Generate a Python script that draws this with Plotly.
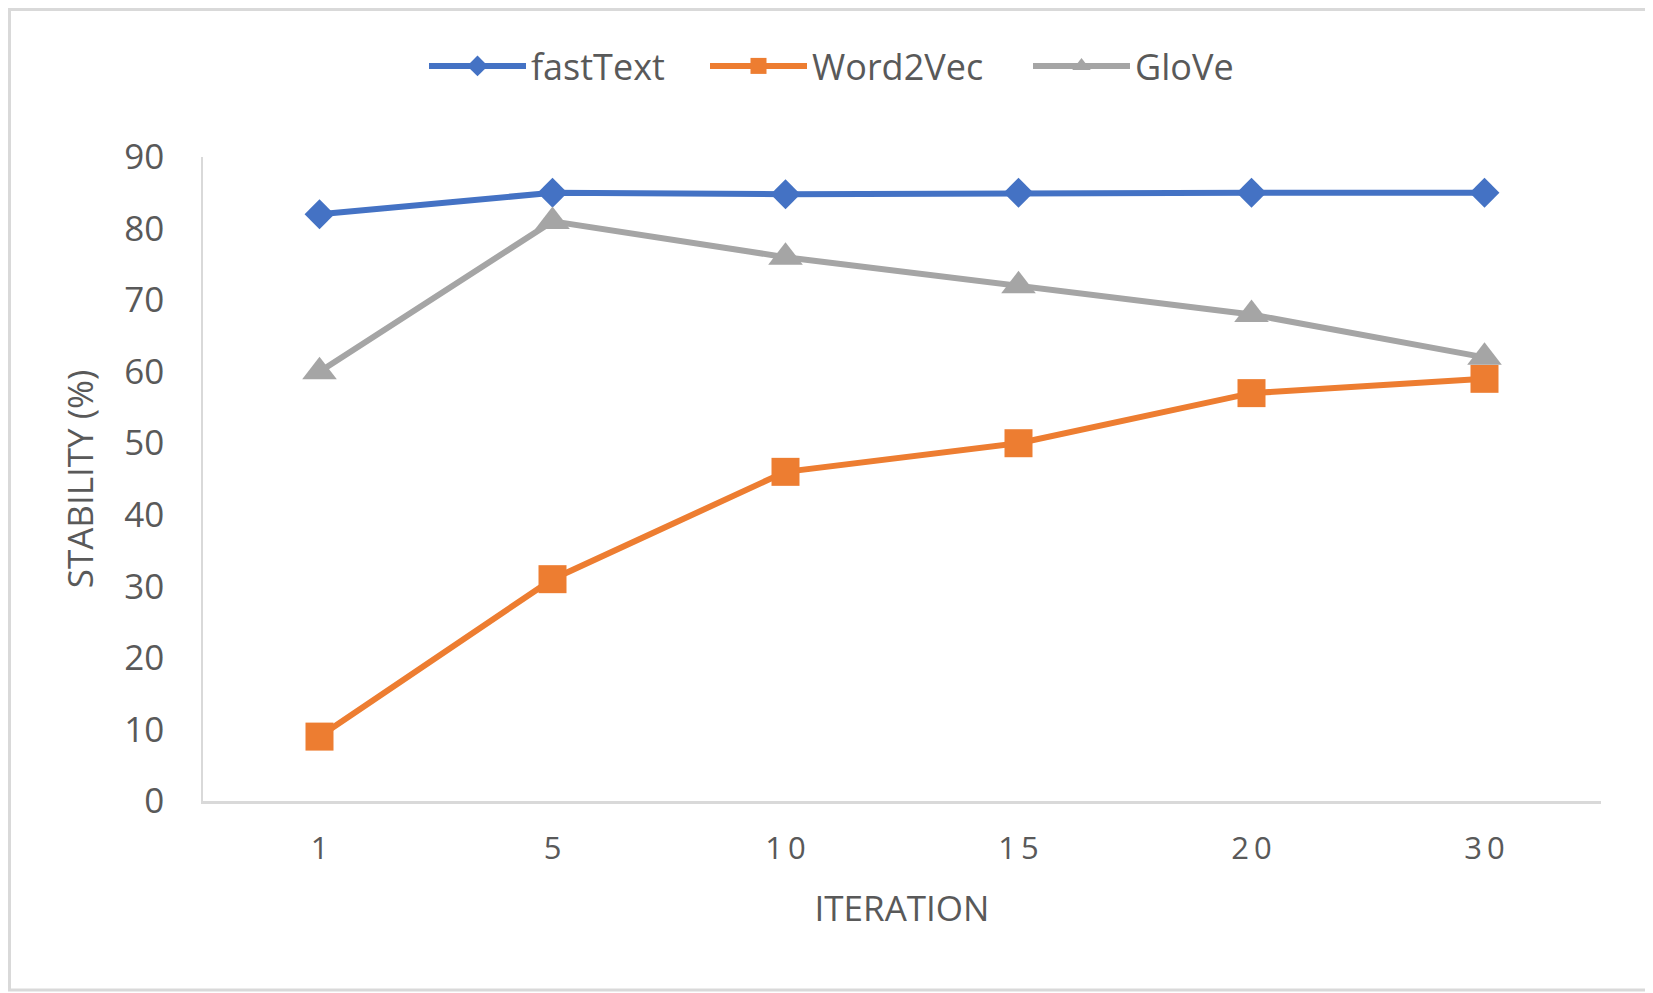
import plotly.graph_objects as go

categories = ["1", "5", "10", "15", "20", "30"]
fasttext = [82, 85, 84.8, 85, 85, 85]
word2vec = [9, 31, 46, 50, 57, 59]
glove = [60, 81, 76, 72, 68, 62]
y_ticks = [0, 10, 20, 30, 40, 50, 60, 70, 80, 90]

# the page body has an 8px margin, so the figure is offset by 8px
W, H = 1645, 985
L, T = 195, 149
R, B = W - 1593, H - 793
PW, PH = W - L - R, H - T - B

FONT = "Open Sans"
TXT = "#595959"

# letter-spaced category labels, as in the original
tick_text = ["\u2009".join(c) for c in categories]

fig = go.Figure()
fig.add_trace(go.Scatter(x=categories, y=fasttext, name="fastText", mode="lines+markers",
                         legend="legend",
                         line=dict(color="#4472C4", width=6),
                         marker=dict(symbol="diamond", size=23, color="#4472C4")))
fig.add_trace(go.Scatter(x=categories, y=word2vec, name="Word2Vec", mode="lines+markers",
                         legend="legend2",
                         line=dict(color="#ED7D31", width=6),
                         marker=dict(symbol="square", size=28, color="#ED7D31")))
fig.add_trace(go.Scatter(x=categories, y=glove, name="GloVe", mode="lines+markers",
                         legend="legend3",
                         line=dict(color="#A5A5A5", width=6),
                         marker=dict(symbol="triangle-up", size=30, color="#A5A5A5")))


def leg(x_left):
    return dict(orientation="h", xref="container", yref="container",
                x=x_left / W, xanchor="left", y=1 - 58 / H, yanchor="middle",
                font=dict(size=36, color=TXT, family=FONT),
                itemwidth=97, tracegroupgap=0, bgcolor="rgba(0,0,0,0)")


fig.update_layout(
    width=W, height=H,
    margin=dict(l=L, r=R, t=T, b=B, autoexpand=False),
    paper_bgcolor="white", plot_bgcolor="white",
    font=dict(family=FONT, color=TXT),
    showlegend=True,
    legend=leg(416),
    legend2=leg(697),
    legend3=leg(1020),
    xaxis=dict(type="category", range=[-0.5, 5.5], showgrid=False, zeroline=False,
               showline=True, linecolor="#D9D9D9", linewidth=2.5,
               ticks="", ticklabelstandoff=18,
               tickvals=categories, ticktext=tick_text,
               tickfont=dict(size=31, color=TXT, family=FONT),
               title=dict(text="ITERATION", font=dict(size=35, color=TXT, family=FONT), standoff=30),
               automargin=False, fixedrange=True),
    yaxis=dict(range=[0, 90], tickvals=y_ticks, showgrid=False, zeroline=False,
               showline=True, linecolor="#D9D9D9", linewidth=1.5,
               ticks="", ticklabelstandoff=30,
               tickfont=dict(size=35, color=TXT, family=FONT),
               title=dict(text="STABILITY (%)", font=dict(size=35, color=TXT, family=FONT), standoff=20),
               automargin=False, fixedrange=True),
)

# outer chart border
fig.add_shape(type="rect", xref="paper", yref="paper",
              x0=(1.5 - L) / PW, x1=(W - 3 - L) / PW,
              y0=-(H - 3 - T - PH) / PH, y1=(T - 1.5) / PH + 1,
              line=dict(color="#D9D9D9", width=3), fillcolor="rgba(0,0,0,0)", layer="below")

fig.write_html("out.html")
